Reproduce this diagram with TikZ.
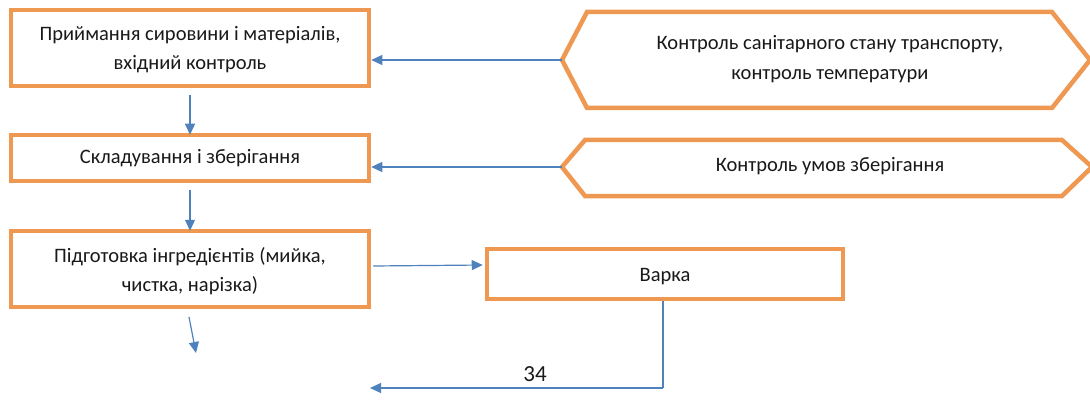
\documentclass[tikz,border=0pt]{standalone}
\usepackage{fontspec}
\setmainfont{Carlito}
\usetikzlibrary{arrows.meta}
\definecolor{boxorange}{RGB}{238,152,82}
\definecolor{arrowblue}{RGB}{79,129,189}
\begin{document}
\begin{tikzpicture}[x=1pt,y=-1pt,
  box/.style={draw=boxorange,line width=4.5pt,fill=white},
  lbl/.style={align=center,font=\fontsize{20.5}{29}\selectfont,text=black!90},
  conn/.style={draw=arrowblue,line width=1.2pt,-{Triangle[length=11pt,width=10pt]}},
  plain/.style={draw=arrowblue,line width=1.2pt}]
\useasboundingbox (0,0) rectangle (1090,401);
% boxes
\node[box,minimum width=358pt,minimum height=76pt] (b1) at (190,48) {};
\node[lbl] (t1) at ([yshift=-2pt]b1.center) {Приймання сировини і матеріалів,\\вхідний контроль};
\node[box,minimum width=358pt,minimum height=46pt] (b2) at (190,158) {};
\node[lbl] (t2) at (b2.center) {Складування і зберігання};
\node[box,minimum width=358pt,minimum height=76pt] (b3) at (190,269) {};
\node[lbl] (t3) at ([yshift=-2pt]b3.center) {Підготовка інгредієнтів (мийка,\\чистка, нарізка)};
\node[box,minimum width=356pt,minimum height=50pt] (b4) at (665,274) {};
\node[lbl] (t4) at ([yshift=-3pt]b4.center) {Варка};
% hexagons
\coordinate (h1) at (562,60);
\draw[boxorange,line width=4.5pt,fill=white,line join=miter] (h1) -- (587,12) -- (1052,12) -- (1090,60) -- (1052,108) -- (587,108) -- cycle;
\node[lbl,font=\fontsize{20.5}{30}\selectfont] (t5) at (830,59) {Контроль санітарного стану транспорту,\\контроль температури};
\coordinate (h2) at (562,167);
\draw[boxorange,line width=4.5pt,fill=white,line join=miter] (h2) -- (585,140) -- (1062,140) -- (1092,167) -- (1062,196) -- (585,196) -- cycle;
\node[lbl] (t6) at (830,166) {Контроль умов зберігання};
% connectors
\draw[conn] (h1) -- (b1.east |- h1);
\draw[conn] (h2) -- (b2.east |- h2);
\draw[conn] ([yshift=-7pt]b1.south) -- ([yshift=-2pt]b2.north);
\draw[conn] ([yshift=-7pt]b2.south) -- ([yshift=-2pt]b3.north);
\draw[conn] ([shift={(2pt,3pt)}]b3.east) -- ([shift={(-2pt,9pt)}]b4.west);
\coordinate (d1) at (189,317);
\coordinate (d2) at (196,353);
\draw[conn] (d1) -- (d2);
\coordinate (c1) at (663,388);
\coordinate (c2) at (370,388);
\draw[plain] (b4.south -| c1) -- (c1);
\draw[conn] (c1) -- (c2);
\node[font=\fontsize{23}{25}\selectfont,text=black!90] (n34) at (535,374) {34};
\end{tikzpicture}
\end{document}
